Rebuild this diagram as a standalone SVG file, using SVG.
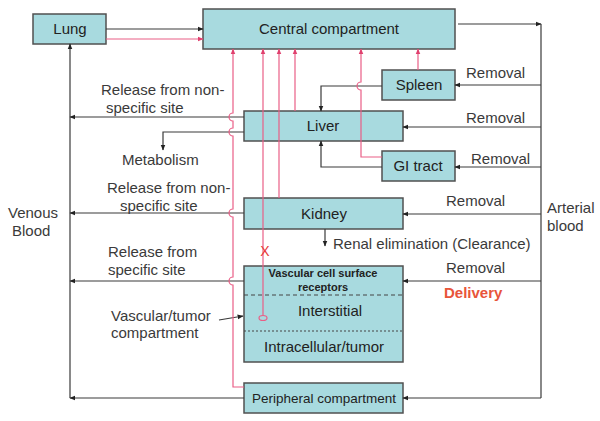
<svg xmlns="http://www.w3.org/2000/svg" width="600" height="421" viewBox="0 0 600 421">
<defs>
<style>
.box{fill:#A8DADF;stroke:#505050;stroke-width:1.5}
.t{font-family:"Liberation Sans",Arial,sans-serif;font-size:15px;fill:#3a3a3a}
.bt{font-family:"Liberation Sans",Arial,sans-serif;font-size:15px;fill:#222;text-anchor:middle}
.k{fill:none;stroke:#3a3a3a;stroke-width:1.2}
.p{fill:none;stroke:#EA5E86;stroke-width:1.2}
</style>
<marker id="ak" viewBox="0 0 10 10" refX="9" refY="5" markerWidth="6" markerHeight="6" markerUnits="userSpaceOnUse" orient="auto"><path d="M0,1 L10,5 L0,9 z" fill="#222"/></marker>
<marker id="ap" viewBox="0 0 10 10" refX="9" refY="5" markerWidth="6" markerHeight="6" markerUnits="userSpaceOnUse" orient="auto"><path d="M0,1 L10,5 L0,9 z" fill="#E0406E"/></marker>
</defs>
<rect width="600" height="421" fill="#fff"/>
<g id="lung"><rect class="box" x="33" y="14" width="73" height="30"/><text class="bt" x="70" y="34">Lung</text></g>
<g id="central"><rect class="box" x="203" y="9" width="252" height="40"/><text class="bt" x="329" y="34">Central compartment</text></g>
<g id="spleen"><rect class="box" x="382" y="70" width="73" height="30"/><text class="bt" x="419" y="90">Spleen</text></g>
<g id="liver"><rect class="box" x="244" y="111" width="159" height="30"/><text class="bt" x="323" y="131">Liver</text></g>
<g id="gi"><rect class="box" x="382" y="151" width="73" height="30"/><text class="bt" x="418" y="171">GI tract</text></g>
<g id="kidney"><rect class="box" x="244" y="198" width="159" height="31"/><text class="bt" x="324" y="219">Kidney</text></g>
<g id="vascular"><rect class="box" x="244" y="266" width="159" height="96"/>
<line x1="244" y1="295" x2="403" y2="295" stroke="#444" stroke-width="1" stroke-dasharray="4,3"/>
<line x1="244" y1="331" x2="403" y2="331" stroke="#444" stroke-width="1" stroke-dasharray="2,2"/>
<text class="bt" x="323" y="277" style="font-size:11px;font-weight:bold">Vascular cell surface</text>
<text class="bt" x="323" y="291" style="font-size:11px;font-weight:bold">receptors</text>
<text class="bt" x="330" y="316">Interstitial</text>
<text class="bt" x="324" y="352">Intracellular/tumor</text>
</g>
<g id="peripheral"><rect class="box" x="244" y="383" width="159" height="30"/><text class="bt" x="324" y="403" style="font-size:13.5px">Peripheral compartment</text></g>
<g id="connectors">
<path class="k" d="M106,29 H203" marker-end="url(#ak)"/>
<path class="k" d="M458,24 H541" marker-end="url(#ak)"/>
<path class="k" d="M541,24 V398"/>
<path class="k" d="M541,85 H455" marker-end="url(#ak)"/>
<path class="k" d="M541,127 H403" marker-end="url(#ak)"/>
<path class="k" d="M541,167 H455" marker-end="url(#ak)"/>
<path class="k" d="M541,214 H403" marker-end="url(#ak)"/>
<path class="k" d="M541,281 H403" marker-end="url(#ak)"/>
<path class="k" d="M541,398 H403" marker-end="url(#ak)"/>
<path class="k" d="M382,86 H321 V111" marker-end="url(#ak)"/>
<path class="k" d="M382,167 H321 V141" marker-end="url(#ak)"/>
<path class="k" d="M244,117 H70" marker-end="url(#ak)"/>
<path class="k" d="M244,132 H163 V150" marker-end="url(#ak)"/>
<path class="k" d="M244,213 H70" marker-end="url(#ak)"/>
<path class="k" d="M244,281 H70" marker-end="url(#ak)"/>
<path class="k" d="M244,398 H70" marker-end="url(#ak)"/>
<path class="k" d="M70,398 V44" marker-end="url(#ak)"/>
<path class="k" d="M325,229 V246" marker-end="url(#ak)"/>
<path class="k" d="M219,320 L243,316" marker-end="url(#ak)"/>
<path class="p" d="M106,39 H203" marker-end="url(#ap)"/>
<path class="p" d="M244,387 H233 V285 A4,4 0 0 1 233,277 V217 A4,4 0 0 1 233,209 V136 A4,4 0 0 1 233,128 V121 A4,4 0 0 1 233,113 V49" marker-end="url(#ap)"/>
<path class="p" d="M263,315.5 V49" marker-end="url(#ap)"/>
<ellipse class="p" cx="263" cy="318" rx="4" ry="2.5"/>
<path class="p" d="M279,198 V49" marker-end="url(#ap)"/>
<path class="p" d="M295,111 V49" marker-end="url(#ap)"/>
<path class="p" d="M382,157 H361 V90 A4,4 0 0 1 361,82 V49" marker-end="url(#ap)"/>
<path class="p" d="M418,70 V49" marker-end="url(#ap)"/>
<text x="265" y="256" style="font-family:'Liberation Sans',Arial,sans-serif;font-size:14px;fill:#E83A3A;text-anchor:middle">X</text>
</g>
<g id="labels">
<text class="t" x="101" y="95">Release from non-</text>
<text class="t" x="106" y="113">specific site</text>
<text class="t" x="122" y="165">Metabolism</text>
<text class="t" x="107" y="193">Release from non-</text>
<text class="t" x="120" y="211">specific site</text>
<text class="t" x="108" y="257">Release from</text>
<text class="t" x="108" y="275">specific site</text>
<text class="t" x="8" y="218">Venous</text>
<text class="t" x="12" y="236">Blood</text>
<text class="t" x="111" y="321">Vascular/tumor</text>
<text class="t" x="111" y="338">compartment</text>
<text class="t" x="547" y="213">Arterial</text>
<text class="t" x="547" y="231">blood</text>
<text class="t" x="466" y="78">Removal</text>
<text class="t" x="466" y="123">Removal</text>
<text class="t" x="471" y="164">Removal</text>
<text class="t" x="446" y="206">Removal</text>
<text class="t" x="446" y="273">Removal</text>
<text class="t" x="444" y="298" style="font-weight:bold;fill:#E8553A">Delivery</text>
<text class="t" x="333" y="249">Renal elimination (Clearance)</text>
</g>
</svg>
